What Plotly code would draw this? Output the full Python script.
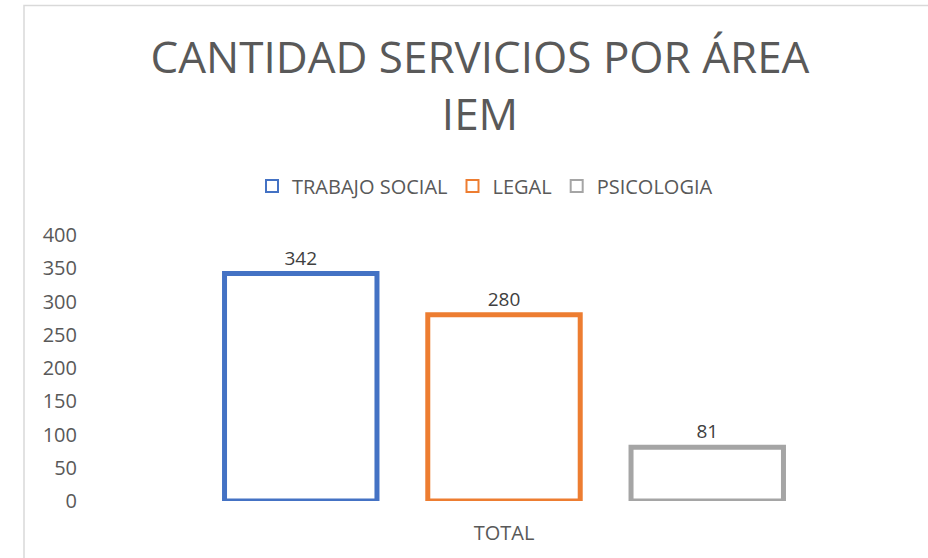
import plotly.graph_objects as go

categories = ["TOTAL"]
series_names = ["TRABAJO SOCIAL", "LEGAL", "PSICOLOGIA"]
series_values = [[342], [280], [81]]
series_colors = ["#4472C4", "#ED7D31", "#A5A5A5"]
y_ticks = [0, 50, 100, 150, 200, 250, 300, 350, 400]

FONT = "Open Sans"
TXT = "#595959"

fig = go.Figure()
for name, vals, col in zip(series_names, series_values, series_colors):
    fig.add_trace(go.Bar(
        name=name, x=categories, y=vals,
        marker=dict(color="white", line=dict(color=col, width=5)),
        text=[str(v) for v in vals], textposition="outside",
        textfont=dict(family=FONT, size=19, color="#404040"),
        cliponaxis=False,
    ))

W, H = 928, 558
L, R, T, B = 92, 12, 235, 57
pw = W - L - R
ph = H - T - B

fig.update_layout(
    width=W, height=H,
    margin=dict(l=L, r=R, t=T, b=B),
    paper_bgcolor="white", plot_bgcolor="white",
    barmode="group", bargap=0.26, bargroupgap=0.25,
    title=dict(text="CANTIDAD SERVICIOS POR ÁREA<br>IEM",
               x=480 / W, xanchor="center", y=1 - 73 / H, yanchor="top",
               font=dict(family=FONT, size=44, color=TXT)),
    legend=dict(orientation="h", x=(485 - L) / pw, xanchor="center",
                y=(H - B - 186) / ph, yanchor="middle",
                font=dict(family=FONT, size=20, color=TXT),
                itemsizing="constant"),
    showlegend=True,
    shapes=[dict(type="rect", xref="paper", yref="paper",
                 x0=(24 - L) / pw, x1=(940 - L) / pw,
                 y0=(H - B - 570) / ph, y1=(H - B - 5.5) / ph,
                 line=dict(color="#d9d9d9", width=1.5), layer="below")],
)
fig.update_yaxes(range=[0, 400], tickvals=y_ticks, showgrid=False, zeroline=False,
                 showline=False, ticks="", ticklabelstandoff=14,
                 tickfont=dict(family=FONT, size=20, color=TXT))
fig.update_xaxes(showgrid=False, showline=False, ticks="", ticklabelstandoff=18,
                 tickfont=dict(family=FONT, size=20, color=TXT))

fig.write_html("out.html", config={"displayModeBar": False},
               post_script="document.body.style.margin='0';")
